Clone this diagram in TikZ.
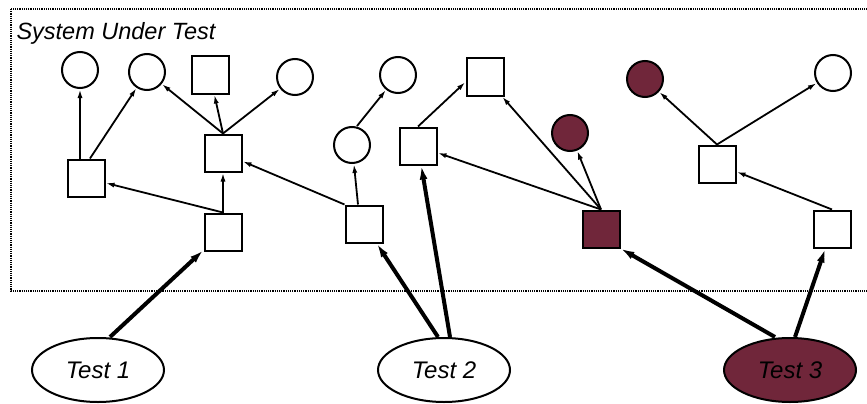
\documentclass[tikz,border=0pt]{standalone}
\usepackage{fontspec}
\setmainfont{Liberation Sans}
\usetikzlibrary{arrows.meta,shapes.geometric}
\definecolor{maroon}{RGB}{112,38,58}
\tikzset{
  box/.style={draw,line width=2pt,minimum width=37pt,minimum height=37pt,inner sep=0pt},
  circ/.style={draw,circle,line width=2pt,minimum size=36pt,inner sep=0pt},
  hot/.style={fill=maroon},
  testnode/.style={draw,ellipse,line width=2pt,minimum width=132pt,minimum height=64pt,inner sep=0pt,font=\fontsize{24}{26}\selectfont\itshape},
  thin/.style={line width=1.8pt,-{Latex[length=9pt,width=5pt]}},
  thick/.style={line width=4pt,-{Latex[length=14pt,width=8pt]}},
  frame/.style={densely dotted,line width=1.2pt}
}
\begin{document}
\begin{tikzpicture}[x=1pt,y=-1pt]
\useasboundingbox (0,0) rectangle (867,404);
\draw[frame] (11,9) rectangle (880,291);
\node[anchor=base west,font=\fontsize{23.5}{26}\selectfont\itshape] (title) at (13,40) {System Under Test};
% top row
\node[circ] (C1) at (80,70) {};
\node[circ] (C2) at (147,72) {};
\node[box]  (S1) at (210,75) {};
\node[circ] (C3) at (295,77) {};
\node[circ] (C4) at (398,75) {};
\node[box]  (S7) at (485,77) {};
\node[circ,hot] (F2) at (645,79) {};
\node[circ] (C6) at (833,73) {};
% middle
\node[box] (S2) at (86,178) {};
\node[box] (S3) at (223,153) {};
\node[circ] (C5) at (352,145) {};
\node[box] (S6) at (418,146) {};
\node[circ,hot] (F1) at (570,133) {};
\node[box] (S8) at (717,164) {};
% lower
\node[box] (S4) at (223,232) {};
\node[box] (S5) at (364,224) {};
\node[box,hot] (FS) at (601,229) {};
\node[box] (S9) at (832,229) {};
% tests
\node[testnode] (T1) at (98,370) {Test 1};
\node[testnode] (T2) at (444,370) {Test 2};
\node[testnode,fill=maroon] (T3) at (790,370) {Test 3};
% edges
\draw[thin] ([xshift=-6pt]S2.north) -- (C1);
\draw[thin] ([xshift=4pt]S2.north) -- (C2);
\draw[thin] (S3.north) -- (C2);
\draw[thin] (S3.north) -- (S1);
\draw[thin] (S3.north) -- (C3);
\draw[thin] (S4.north) -- (S2);
\draw[thin] (S4.north) -- (S3);
\draw[thin] (S5.north west) -- (S3);
\draw[thin] ([xshift=-6pt]S5.north) -- (C5);
\draw[thin] ([xshift=5pt]C5.north) -- (C4);
\draw[thin] (S6.north) -- ([yshift=-5pt]S7.west);
\draw[thin] (FS.north) -- (S6);
\draw[thin] (FS.north) -- (S7);
\draw[thin] (FS.north) -- (F1);
\draw[thin] (S9.north) -- (S8);
\draw[thin] (S8.north) -- (F2);
\draw[thin] (S8.north) -- (C6);
\draw[thick] ([xshift=12pt]T1.north) -- (S4);
\draw[thick] ([xshift=-6pt]T2.north) -- (S5);
\draw[thick] ([xshift=6pt]T2.north) -- (S6);
\draw[thick] ([xshift=-15pt]T3.north) -- (FS.south east);
\draw[thick] ([xshift=5pt]T3.north) -- (S9);
\end{tikzpicture}
\end{document}
